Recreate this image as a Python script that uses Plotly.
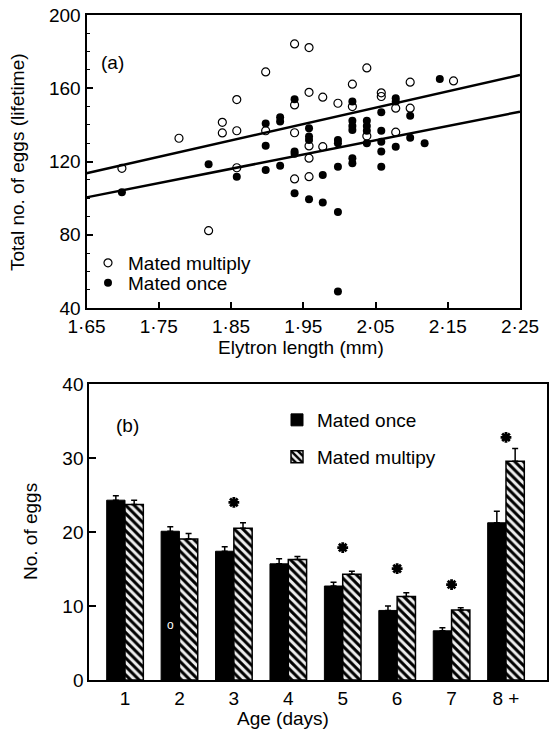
import plotly.graph_objects as go

# ---------------- Panel (a) data ----------------
multiply_x = [1.699, 1.778, 1.819, 1.838, 1.838, 1.858, 1.858, 1.858, 1.898, 1.898,
              1.938, 1.938, 1.938, 1.938, 1.958, 1.958, 1.958, 1.958, 1.958, 1.977,
              1.977, 1.998, 2.018, 2.018, 2.038, 2.038, 2.058, 2.058, 2.078, 2.078,
              2.098, 2.098, 2.158]
multiply_y = [116.3, 132.7, 82.2, 141.4, 135.6, 153.8, 136.8, 116.6, 168.9, 136.8,
              184.2, 150.9, 135.7, 110.5, 182.2, 157.8, 128.5, 121.8, 111.7, 155.1,
              128.1, 151.8, 162.2, 150.0, 171.1, 133.9, 157.5, 155.5, 149.1, 136.0,
              163.3, 149.1, 164.0]

once_x = [1.699, 1.819, 1.858, 1.898, 1.898, 1.898, 1.918, 1.918, 1.918, 1.938,
          1.938, 1.938, 1.938, 1.958, 1.958, 1.958, 1.958, 1.977, 1.977, 1.998,
          1.998, 1.998, 1.998, 1.998, 2.018, 2.018, 2.018, 2.018, 2.018, 2.018,
          2.038, 2.038, 2.038, 2.038, 2.058, 2.058, 2.058, 2.058, 2.058, 2.078,
          2.078, 2.078, 2.098, 2.098, 2.118, 2.139]
once_y = [103.2, 118.5, 111.7, 115.4, 128.6, 140.7, 144.1, 141.8, 117.7, 154.0,
          125.4, 124.2, 102.6, 138.1, 133.6, 131.7, 99.4, 112.6, 97.6, 131.8,
          130.0, 117.2, 92.4, 49.0, 152.7, 142.3, 139.4, 137.2, 121.8, 119.0,
          142.3, 139.4, 136.8, 130.0, 146.9, 136.8, 130.8, 125.4, 117.2, 154.5,
          152.7, 128.1, 145.0, 133.0, 130.0, 165.0]

fit_x = [1.65, 2.25]
fit_multiply = [113.6, 167.2]
fit_once = [100.4, 147.2]

len_ticks = [1.65, 1.75, 1.85, 1.95, 2.05, 2.15, 2.25]
len_labels = ["1·65", "1·75", "1·85", "1·95", "2·05", "2·15", "2·25"]

# ---------------- Panel (b) data ----------------
age_pos = [1, 2, 3, 4, 5, 6, 7, 8]
age_labels = ["1", "2", "3", "4", "5", "6", "7", "8 +"]
eggs_once = [24.3, 20.1, 17.4, 15.7, 12.7, 9.4, 6.65, 21.25]
eggs_once_top = [24.9, 20.7, 18.0, 16.4, 13.2, 10.0, 7.05, 22.8]
eggs_multi = [23.7, 19.05, 20.5, 16.3, 14.3, 11.3, 9.45, 29.55]
eggs_multi_top = [24.3, 19.8, 21.25, 16.7, 14.7, 11.8, 9.75, 31.3]
star_pos = [3, 5, 6, 7, 8]
star_y = [24.0, 17.9, 15.05, 12.9, 32.8]

W, H = 557, 731
FS = 19

fig = go.Figure()

fig.add_trace(go.Scatter(
    x=multiply_x, y=multiply_y, mode="markers", name="Mated multiply",
    marker=dict(symbol="circle-open", size=8, color="black", line=dict(width=1.2, color="black")),
    xaxis="x", yaxis="y", legend="legend"))
fig.add_trace(go.Scatter(
    x=once_x, y=once_y, mode="markers", name="Mated once",
    marker=dict(symbol="circle", size=8, color="black"),
    xaxis="x", yaxis="y", legend="legend3"))
fig.add_trace(go.Scatter(x=fit_x, y=fit_multiply, mode="lines", showlegend=False,
                         line=dict(color="black", width=2.5), xaxis="x", yaxis="y"))
fig.add_trace(go.Scatter(x=fit_x, y=fit_once, mode="lines", showlegend=False,
                         line=dict(color="black", width=2.5), xaxis="x", yaxis="y"))

fig.add_trace(go.Bar(
    x=age_pos, y=eggs_once, name="Mated once", xaxis="x2", yaxis="y2", legend="legend2",
    marker=dict(color="black", line=dict(color="black", width=1)),
    error_y=dict(type="data", symmetric=False,
                 array=[t - v for t, v in zip(eggs_once_top, eggs_once)],
                 arrayminus=[0] * len(eggs_once), color="black", thickness=1.5, width=3)))
fig.add_trace(go.Bar(
    x=age_pos, y=eggs_multi, name="Mated multipy", xaxis="x2", yaxis="y2", legend="legend4",
    marker=dict(color="white", line=dict(color="black", width=1.5),
                pattern=dict(shape="\\", fgcolor="black", bgcolor="#eeeeee", size=6, solidity=0.5)),
    error_y=dict(type="data", symmetric=False,
                 array=[t - v for t, v in zip(eggs_multi_top, eggs_multi)],
                 arrayminus=[0] * len(eggs_multi), color="black", thickness=1.5, width=3)))
fig.add_trace(go.Scatter(
    x=star_pos, y=star_y, mode="markers", showlegend=False, xaxis="x2", yaxis="y2",
    marker=dict(symbol="asterisk-open", size=9, color="black", line=dict(width=2.8, color="black"))))

axis_common = dict(showline=True, linewidth=2, linecolor="black", mirror=True,
                   showgrid=False, zeroline=False, tickcolor="black", automargin=False,
                   tickfont=dict(size=FS, color="black"))

leg_common = dict(xanchor="left", yanchor="top", bgcolor="rgba(0,0,0,0)",
                  font=dict(size=FS, color="black"), borderwidth=0)


def ann(text, x, y, **kw):
    d = dict(text=text, x=x / W, y=1 - y / H, xref="paper", yref="paper", showarrow=False,
             xanchor="center", yanchor="middle", font=dict(size=FS, color="black"))
    d.update(kw)
    return d


fig.update_layout(
    template="none",
    width=W, height=H, margin=dict(l=0, r=0, t=0, b=0, autoexpand=False),
    paper_bgcolor="white", plot_bgcolor="white",
    font=dict(family="Liberation Sans, Arial, sans-serif", size=FS, color="black"),
    barmode="group", bargap=0.327, bargroupgap=0,
    xaxis=dict(domain=[86.5 / W, 520 / W], range=[1.65, 2.25], anchor="y",
               tickvals=len_ticks, ticktext=len_labels, ticks="inside", ticklen=6, tickwidth=1.5,
               **axis_common),
    yaxis=dict(domain=[1 - 308 / H, 1 - 15 / H], range=[40, 200], anchor="x",
               tick0=40, dtick=40, ticks="inside", ticklen=6, tickwidth=1.5,
               minor=dict(ticks="inside", ticklen=3, dtick=10, tickcolor="black", tickwidth=1.2),
               **axis_common),
    xaxis2=dict(domain=[89.3 / W, 546.7 / W], range=[0.344, 8.748], anchor="y2",
                tickvals=age_pos, ticktext=age_labels, ticks="", **axis_common),
    yaxis2=dict(domain=[1 - 680 / H, 1 - 384 / H], range=[0, 40], anchor="x2",
                tick0=0, dtick=10, ticks="inside", ticklen=7, tickwidth=1.5, **axis_common),
    legend=dict(x=88 / W, y=1 - 244 / H, **leg_common),
    legend3=dict(x=88 / W, y=1 - 264 / H, **leg_common),
    legend2=dict(x=277 / W, y=1 - 401 / H, **leg_common),
    legend4=dict(x=277 / W, y=1 - 438 / H, **leg_common),
    annotations=[
        ann("(a)", 112, 62),
        ann("(b)", 127, 425),
        ann("Total no. of eggs (lifetime)", 18, 162, textangle=-90),
        ann("Elytron length (mm)", 301, 347),
        ann("No. of eggs", 30, 532, textangle=-90),
        ann("Age (days)", 283, 718),
        dict(text="o", x=2, y=7.4, xref="x2", yref="y2", xshift=-9, showarrow=False,
             xanchor="center", yanchor="middle", font=dict(size=12, color="white")),
    ],
)

fig.write_html("out.html", config={"displayModeBar": False},
               post_script="document.body.style.margin='0';")
